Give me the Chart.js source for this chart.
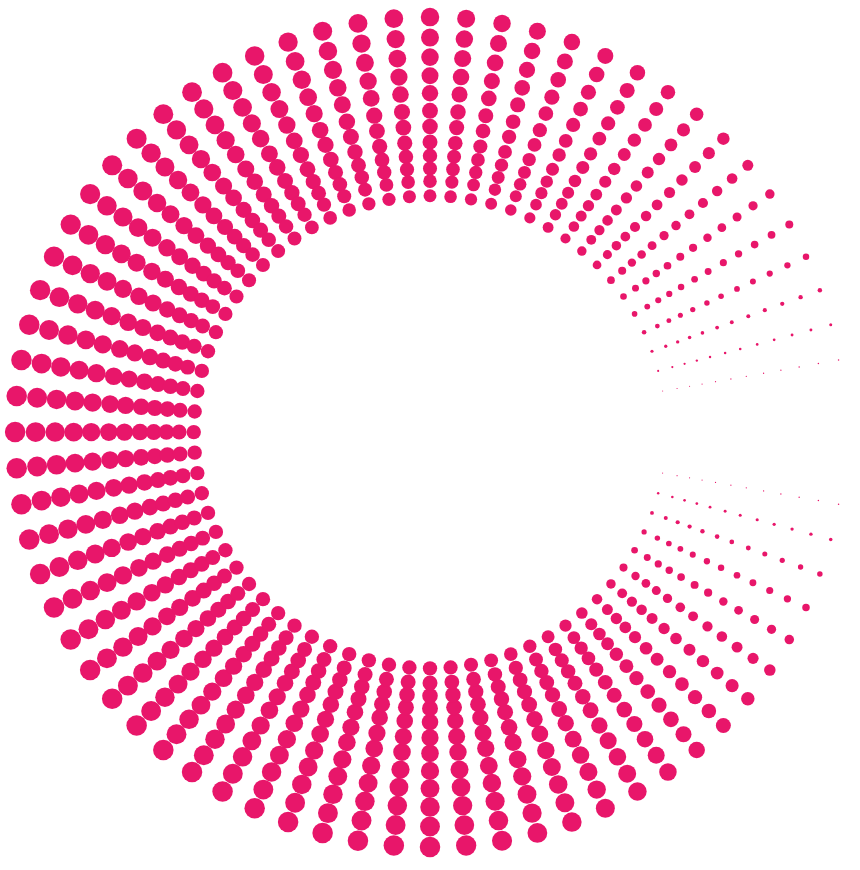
<!DOCTYPE html>
<html>
<head>
<meta charset="utf-8">
<script src="https://cdn.jsdelivr.net/npm/chart.js@4/dist/chart.umd.min.js"></script>
<style>
  html, body { margin: 0; padding: 0; background: #ffffff; }
  #wrap { width: 860px; height: 870px; }
</style>
</head>
<body>
<div id="wrap"><canvas id="dots"></canvas></div>
<script>
// ray angles in degrees (0 = right, counter-clockwise), gap around 0
const rayAngles = [10, 15, 20, 25, 30, 35, 40, 45, 50, 55, 60, 65, 70, 75, 80, 85, 90,
    95, 100, 105, 110, 115, 120, 125, 130, 135, 140, 145, 150, 155, 160, 165, 170, 175, 180,
    185, 190, 195, 200, 205, 210, 215, 220, 225, 230, 235, 240, 245, 250, 255, 260, 265, 270,
    275, 280, 285, 290, 295, 300, 305, 310, 315, 320, 325, 330, 335, 340, 345, 350];

// outer dot diameter for each ray
const raySizes = [1.5, 3, 4.5, 6.5, 8, 9.5, 11, 12.5, 13.5, 14.5, 15.5, 16, 16.5, 17, 17.5, 18, 18.5,
    18.7, 18.9, 19.1, 19.3, 19.5, 19.7, 19.8, 19.9, 20, 20.1, 20.2, 20.3, 20.3, 20.4, 20.5, 20.5, 20.5, 20.5,
    20.5, 20.5, 20.5, 20.5, 20.5, 20.5, 20.5, 20.5, 20.5, 20.5, 20.5, 20.5, 20.5, 20.5, 20.5, 20.5, 20.5, 20.5,
    20.3, 20.1, 19.8, 19.5, 19, 18.5, 17.5, 16.5, 15, 13.5, 11.5, 9.5, 7.5, 5.5, 3.5, 1.5];

// ring distance from centre (px) and size factor, outer to inner
const ringRadii = [425, 404, 384, 365, 347, 329, 313, 297, 283, 270, 257, 242];
const ringScale = [1, 0.97, 0.95, 0.92, 0.89, 0.86, 0.84, 0.81, 0.78, 0.76, 0.73, 0.7];

const centerY = 3; // centre sits slightly above mid canvas

const points = [];
rayAngles.forEach(function (a, i) {
    const rad = a * Math.PI / 180;
    ringRadii.forEach(function (r, j) {
        points.push({
            x: r * Math.cos(rad),
            y: centerY + r * Math.sin(rad),
            r: raySizes[i] * ringScale[j] / 2
        });
    });
});

const ctx = document.getElementById('dots').getContext('2d');
new Chart(ctx, {
    type: 'bubble',
    data: {
        datasets: [{
            data: points,
            backgroundColor: '#e8166a',
            borderWidth: 0,
            clip: false
        }]
    },
    options: {
        responsive: true,
        maintainAspectRatio: false,
        animation: false,
        layout: { padding: 0 },
        plugins: { legend: { display: false }, tooltip: { enabled: false } },
        scales: {
            x: { type: 'linear', min: -430, max: 430, display: false },
            y: { type: 'linear', min: -435, max: 435, display: false }
        }
    }
});
</script>
</body>
</html>
